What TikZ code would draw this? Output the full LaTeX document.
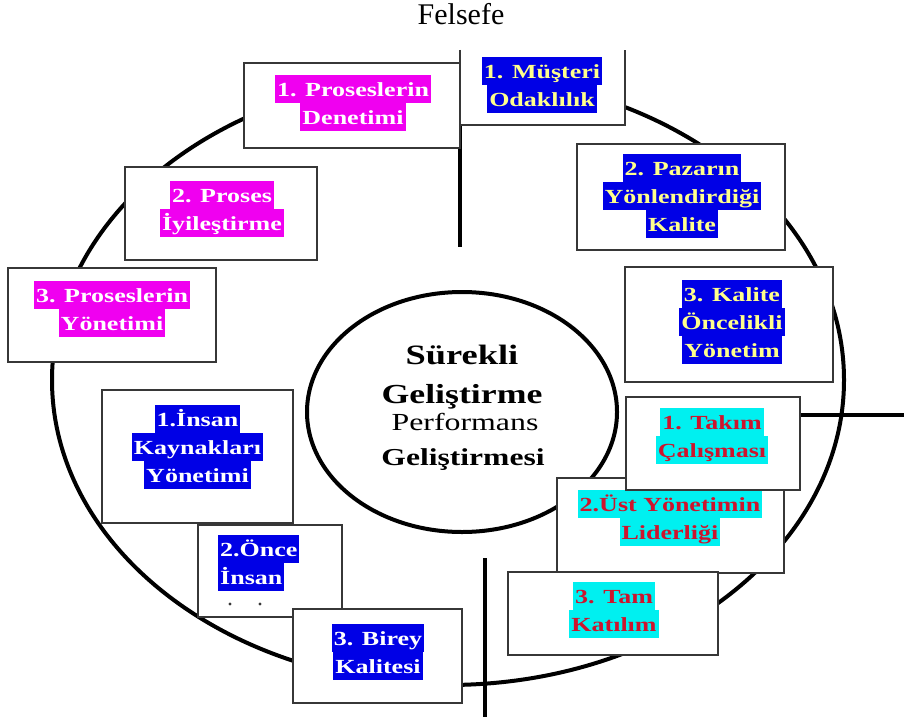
\documentclass[tikz,border=0pt]{standalone}
\usepackage{fontspec}
\setmainfont{Liberation Serif}
\newfontfamily\wideserif[FakeStretch=1.3]{Liberation Serif}
\usetikzlibrary{shapes.geometric}
\definecolor{magbg}{RGB}{240,0,240}
\definecolor{blubg}{RGB}{0,0,230}
\definecolor{yeltx}{RGB}{255,255,140}
\definecolor{cynbg}{RGB}{0,240,240}
\definecolor{redtx}{RGB}{205,20,45}
\definecolor{boxgray}{RGB}{55,55,55}
\setlength{\fboxsep}{0pt}
\setlength{\lineskip}{0pt}
\setlength{\lineskiplimit}{0pt}
\newcommand{\hlx}[3]{\colorbox{#1}{\rule[-7pt]{0pt}{28pt}\hspace{2pt}\textcolor{#2}{#3}\hspace{2pt}}}
\newcommand{\mgl}[1]{\hlx{magbg}{white}{#1}}
\newcommand{\byl}[1]{\hlx{blubg}{yeltx}{#1}}
\newcommand{\bwl}[1]{\hlx{blubg}{white}{#1}}
\newcommand{\cyl}[1]{\hlx{cynbg}{redtx}{#1}}
\newcommand{\boxfont}{\wideserif\bfseries\fontsize{20}{24}\selectfont}
\begin{document}
\begin{tikzpicture}[x=1pt,y=-1pt,
  boxn/.style={draw=boxgray, line width=1.8pt, fill=white, rectangle, inner sep=0pt},
  lbl/.style={font=\boxfont, align=center, inner sep=0pt},
  thickline/.style={line width=4pt, black}]
\useasboundingbox (0,0) rectangle (904,725);
\fill[white] (0,0) rectangle (904,725);
% title
\node[font=\fontsize{30}{36}\selectfont, anchor=base, inner sep=0pt] (title) at (461,25) {Felsefe};
% big ring
\node[ellipse, draw, line width=4pt, minimum width=792pt, minimum height=610pt, inner sep=0pt] (ring) at (448,380) {};
% centre ellipse
\node[ellipse, draw, line width=4pt, minimum width=310pt, minimum height=240pt, inner sep=0pt] (core) at (462,412) {};
% cross lines
\coordinate (vt1) at (460,125);
\coordinate (vt2) at (460,247);
\coordinate (hr1) at (800,415);
\coordinate (hr2) at (904,415);
\coordinate (vb1) at (485,558);
\coordinate (vb2) at (485,717);
\draw[thickline] (vt1) -- (vt2);
\draw[thickline] (hr1) -- (hr2);
\draw[thickline] (vb1) -- (vb2);
% centre text
\node[anchor=base, inner sep=0pt, font=\wideserif\bfseries\fontsize{28}{30}\selectfont] (c1) at (462,364) {Sürekli};
\node[anchor=base, inner sep=0pt, font=\wideserif\bfseries\fontsize{27.5}{30}\selectfont] (c2) at (462,403) {Geliştirme};
\node[anchor=base, inner sep=0pt, font=\wideserif\fontsize{24.5}{28}\selectfont] (c3) at (465,430) {Performans};
\node[anchor=base, inner sep=0pt, font=\wideserif\bfseries\fontsize{24.3}{28}\selectfont] (c4) at (463,465) {Geliştirmesi};
% boxes top
\node[boxn, minimum width=216pt, minimum height=85pt] (den) at (352,105.5) {};
\node[lbl] (tden) at (353,103) {\mgl{1. Proseslerin}\\\mgl{Denetimi}};
\node[rectangle, fill=white, inner sep=0pt, minimum width=165pt, minimum height=75pt] (mus) at (542.5,87.5) {};
\draw[draw=boxgray, line width=1.8pt] (mus.north west) -- (mus.south west) -- (mus.south east) -- (mus.north east);
\node[lbl] (tmus) at (542,85) {\byl{1. Müşteri}\\\byl{Odaklılık}};
\node[boxn, minimum width=208pt, minimum height=106pt] (pz) at (681,197) {};
\node[lbl] (tpz) at (682,196) {\byl{2. Pazarın}\\\byl{Yönlendirdiği}\\\byl{Kalite}};
\node[boxn, minimum width=208pt, minimum height=115pt] (kal) at (729,324.5) {};
\node[lbl] (tkal) at (732,322) {\byl{3. Kalite}\\\byl{Öncelikli}\\\byl{Yönetim}};
% left boxes
\node[boxn, minimum width=192pt, minimum height=93pt] (pi) at (221,213.5) {};
\node[lbl] (tpi) at (222,209) {\mgl{2. Proses}\\\mgl{İyileştirme}};
\node[boxn, minimum width=208pt, minimum height=94pt] (py) at (112,315) {};
\node[lbl] (tpy) at (112,309) {\mgl{3. Proseslerin}\\\mgl{Yönetimi}};
\node[boxn, minimum width=191pt, minimum height=133pt] (ik) at (197.5,456.5) {};
\node[lbl] (tik) at (197.5,447) {\bwl{1.İnsan}\\\bwl{Kaynakları}\\\bwl{Yönetimi}};
\node[boxn, minimum width=144pt, minimum height=92pt] (oi) at (270,571) {};
\node[lbl, align=left, anchor=west] (toi) at (218,563) {\bwl{2.Önce}\\\bwl{İnsan}};
\fill[boxgray] (230,604) circle (1.6);
\fill[boxgray] (260,604) circle (1.6);
\node[boxn, minimum width=169pt, minimum height=94pt] (br) at (377.5,656) {};
\node[lbl] (tbr) at (378,652) {\bwl{3. Birey}\\\bwl{Kalitesi}};
% right lower boxes
\node[boxn, minimum width=227pt, minimum height=95pt] (ust) at (670.5,525.5) {};
\node[lbl] (tust) at (670,518) {\cyl{2.Üst Yönetimin}\\\cyl{Liderliği}};
\node[boxn, minimum width=174pt, minimum height=93pt] (tk) at (713,443.5) {};
\node[lbl] (ttk) at (712,436) {\cyl{1. Takım}\\\cyl{Çalışması}};
\node[boxn, minimum width=210pt, minimum height=83pt] (tam) at (613,613.5) {};
\node[lbl] (ttam) at (614,610) {\cyl{3. Tam}\\\cyl{Katılım}};
\end{tikzpicture}
\end{document}
